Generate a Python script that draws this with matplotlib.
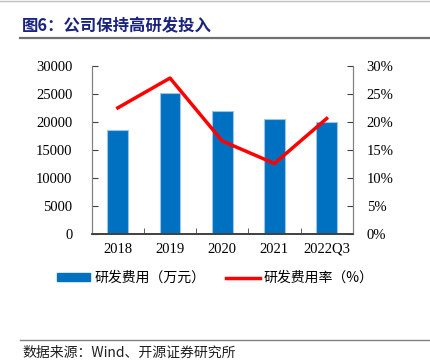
import matplotlib.pyplot as plt
import numpy as np
from matplotlib.lines import Line2D
from matplotlib.patches import Patch

plt.rcParams['font.family'] = ['Liberation Serif', 'Noto Sans CJK SC', 'DejaVu Sans']

years = ['2018', '2019', '2020', '2021', '2022Q3']
rd_cost = [18500, 25100, 22000, 20600, 20000]          # 万元
rd_rate = [22.5, 27.8, 16.6, 12.6, 20.6]               # %

fig = plt.figure(figsize=(4.31, 3.63), dpi=100)
ax1 = fig.add_axes([0.2128, 0.3545, 0.6056, 0.4645])
x = np.arange(len(years))
ax1.bar(x, rd_cost, width=0.4, color='#0070c0', edgecolor='#9dc3e6', lw=0.8, zorder=2)
ax1.set_xlim(-0.5, len(years) - 0.5)
ax1.set_ylim(0, 30000)
ax1.set_yticks(np.arange(0, 30001, 5000))
ax1.set_xticks(x)
ax1.set_xticklabels(years)
ax1.set_xticks(np.arange(0.5, len(years) - 0.5, 1), minor=True)
ax1.tick_params(axis='x', which='major', length=0, pad=6, labelsize=10.5)
ax1.tick_params(axis='x', which='minor', direction='in', length=4, color='#404040')
ax1.tick_params(axis='y', direction='in', length=4, color='#404040', labelsize=10.5, pad=14)

ax2 = ax1.twinx()
ax2.plot(x, rd_rate, color='#ff0000', lw=2.5, zorder=3)
ax2.set_ylim(0, 30)
ax2.set_yticks(np.arange(0, 31, 5))
ax2.set_yticklabels(['%d%%' % v for v in range(0, 31, 5)])
ax2.tick_params(axis='y', direction='in', length=4, color='#404040', labelsize=10.5, pad=10)

for a in (ax1, ax2):
    a.spines['top'].set_visible(False)
    a.spines['left'].set_color('#808080')
    a.spines['right'].set_color('#808080')
    a.spines['bottom'].set_color('#404040')
    a.spines['bottom'].set_linewidth(1.2)

handles = [Patch(facecolor='#0070c0', edgecolor='#0070c0'),
           Line2D([0], [0], color='#ff0000', lw=2.5)]
fig.legend(handles, ['研发费用（万元）', '研发费用率（%）'], loc='center',
           bbox_to_anchor=(0.5, 0.234), ncol=2, frameon=False,
           prop={'family': ['Noto Sans CJK SC', 'DejaVu Sans'], 'size': 10},
           handlelength=2.4, handleheight=0.55, columnspacing=1.5, handletextpad=0.3)

fig.text(0.051, 0.928, '图6：公司保持高研发投入', fontsize=11.8, fontweight='bold',
         color='#1a237e', family=['Noto Sans CJK SC', 'DejaVu Sans'], va='center')
fig.add_artist(Line2D([0.046, 1.0], [0.895, 0.895], color='#707070', lw=1.6))
fig.add_artist(Line2D([0.0, 1.0], [0.998, 0.998], color='#c0c0c0', lw=1.0))
fig.add_artist(Line2D([0.046, 1.0], [0.063, 0.063], color='#808080', lw=1.0))
fig.text(0.051, 0.028, '数据来源：Wind、开源证券研究所', fontsize=10, color='#202020',
         family=['Noto Sans CJK SC', 'DejaVu Sans'], va='center')

fig.savefig('out.png', dpi=100)
